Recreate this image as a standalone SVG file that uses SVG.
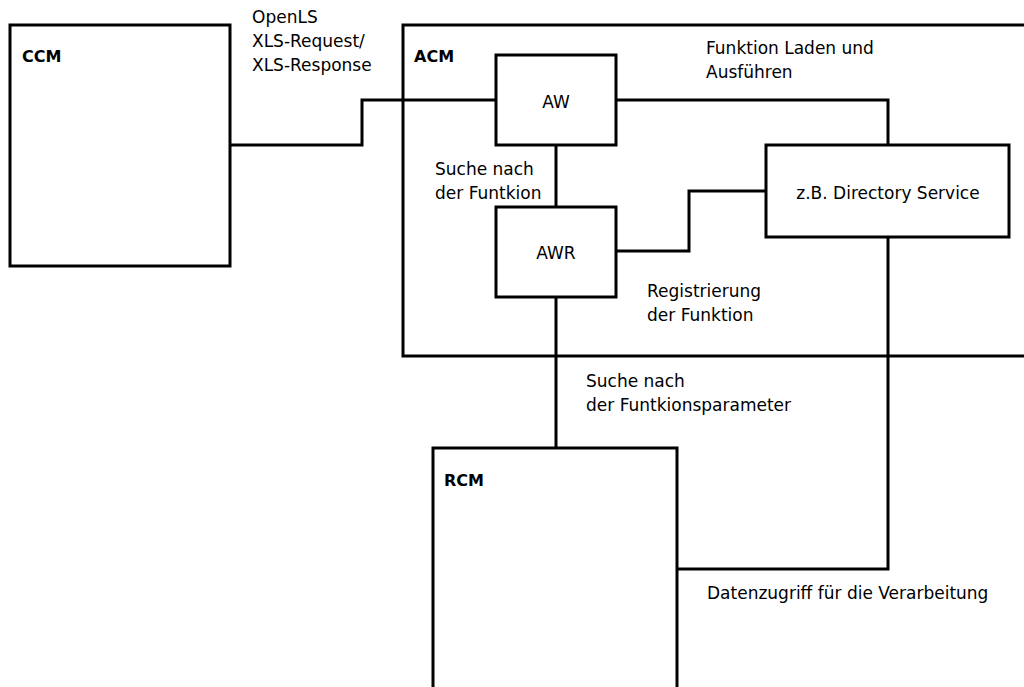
<svg xmlns="http://www.w3.org/2000/svg" width="1024" height="687" viewBox="0 0 1024 687">
<style>
.box{fill:#fff;stroke:#000;stroke-width:3}
.frame{fill:none;stroke:#000;stroke-width:3}
.wire{fill:none;stroke:#000;stroke-width:3}
text{font-family:"DejaVu Sans","Liberation Sans",sans-serif;font-size:17px;fill:#000}
.b{font-weight:bold;font-size:16px}
.c{text-anchor:middle}
</style>
<rect width="1024" height="687" fill="#fff"/>
<g id="ACM">
<rect class="frame" x="403" y="25" width="640" height="331"/>
<text class="b" x="414" y="62">ACM</text>
</g>
<g id="connectors">
<polyline class="wire" points="230,145 362,145 362,100 496,100"/>
<polyline class="wire" points="616,100 888,100 888,145"/>
<line class="wire" x1="556" y1="145" x2="556" y2="207"/>
<polyline class="wire" points="616,251 689,251 689,191 766,191"/>
<line class="wire" x1="556" y1="297" x2="556" y2="448"/>
<polyline class="wire" points="888,237 888,569 677,569"/>
</g>
<g id="CCM">
<rect class="box" x="10" y="25" width="220" height="241"/>
<text class="b" x="22" y="62">CCM</text>
</g>
<g id="AW">
<rect class="box" x="496" y="55" width="120" height="90"/>
<text class="c" x="556" y="108">AW</text>
</g>
<g id="AWR">
<rect class="box" x="496" y="207" width="120" height="90"/>
<text class="c" x="556" y="259">AWR</text>
</g>
<g id="DS">
<rect class="box" x="766" y="145" width="243" height="92"/>
<text class="c" x="888" y="199">z.B. Directory Service</text>
</g>
<g id="RCM">
<rect class="box" x="433" y="448" width="244" height="250"/>
<text class="b" x="444" y="486">RCM</text>
</g>
<g id="labels">
<text x="252" y="23">OpenLS</text>
<text x="252" y="47">XLS-Request/</text>
<text x="252" y="71">XLS-Response</text>
<text x="706" y="54">Funktion Laden und</text>
<text x="706" y="78">Ausführen</text>
<text x="435" y="175">Suche nach</text>
<text x="435" y="199">der Funtkion</text>
<text x="647" y="297">Registrierung</text>
<text x="647" y="321">der Funktion</text>
<text x="586" y="387">Suche nach</text>
<text x="586" y="411">der Funtkionsparameter</text>
<text x="707" y="599">Datenzugriff für die Verarbeitung</text>
</g>
</svg>
